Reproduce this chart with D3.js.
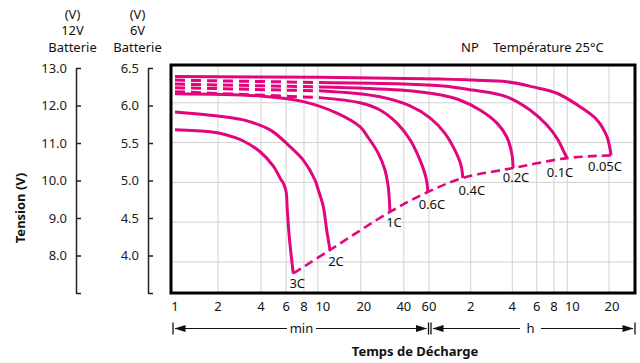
<!DOCTYPE html>
<html lang="fr">
<head>
<meta charset="UTF-8">
<title>Caractéristiques de décharge NP</title>
<script src="https://d3js.org/d3.v7.min.js"></script>
<style>
  body { margin: 0; background: #fff; }
  svg { display: block; font-family: "Noto Sans", sans-serif; }
  .grid line { stroke: #d2d2d2; stroke-width: 1; }
  .curve { fill: none; stroke: #e2067d; stroke-width: 3; }
  .endline { fill: none; stroke: #e2067d; stroke-width: 2.6; stroke-dasharray: 9,5; }
  .volt path, .volt line { stroke: #222; stroke-width: 1.5; }
  .volt text { font-size: 13px; fill: #222; font-family: "Noto Sans", sans-serif; }
  .lbl { font-size: 13px; fill: #111; }
  .bold { font-weight: bold; }
</style>
</head>
<body>
<svg id="chart" width="640" height="363"></svg>
<script>
// discharge time (min) and voltage (12V battery)
var rates = ["0.05C", "0.1C", "0.2C", "0.4C", "0.6C", "1C", "2C", "3C"];

var c005 = [[1, 12.66], [10.35, 12.64], [72, 12.60], [124, 12.57], [219, 12.53], [338, 12.40],
            [505, 12.24], [741, 11.90], [983, 11.57], [1161, 11.15], [1220, 10.85], [1241, 10.68]];
var c01  = [[1, 12.57], [10.35, 12.51], [72, 12.43], [124, 12.32], [219, 12.15], [322, 11.82],
            [427, 11.44], [513, 11.07], [559, 10.81], [597, 10.61]];
var c02  = [[1, 12.47], [10.35, 12.40], [37.6, 12.32], [72, 12.20], [100, 12.07], [140, 11.82],
            [186, 11.49], [219, 11.14], [239, 10.69], [243, 10.36]];
var c04  = [[1, 12.38], [10.35, 12.30], [27.2, 12.15], [44.2, 11.92], [61, 11.62], [78, 11.24],
            [92.3, 10.81], [102, 10.44], [105.4, 10.11]];
var c06  = [[1, 12.28], [10.35, 12.13], [19.7, 12.00], [27.2, 11.82], [35.8, 11.49], [44.2, 11.07],
            [51.9, 10.56], [57.2, 10.11], [59, 9.76]];
var c1   = [[1, 12.23], [3.94, 12.17], [7.91, 12.03], [13.6, 11.74], [19.7, 11.40], [22.4, 11.14],
            [26.4, 10.74], [29.5, 10.31], [31, 9.93], [32, 9.26]];
var c2   = [[1, 11.77], [1.76, 11.69], [3.01, 11.57], [4.63, 11.32], [6.38, 10.90], [7.91, 10.56],
            [9.55, 10.06], [10.07, 9.81], [10.92, 9.39], [11.53, 8.80], [12.17, 8.30]];
var c3   = [[1, 11.32], [1.76, 11.27], [2.30, 11.19], [3.01, 11.04], [3.94, 10.77], [4.88, 10.41],
            [5.50, 10.08], [5.73, 9.98], [5.99, 9.77], [6.11, 9.31], [6.31, 8.63], [6.56, 8.05], [6.73, 7.71]];

var dashedRates = ["0.1C", "0.2C", "0.4C", "0.6C"];
var dashUntil = 10.35;

var xTicks = [1, 2, 4, 6, 8, 10, 20, 40, 60, 120, 240, 360, 480, 600, 1200];
var xTickLabels = ["1", "2", "4", "6", "8", "10", "20", "40", "60", "2", "4", "6", "8", "10", "20"];
var yGrid = [8, 9, 10, 11, 12];
var volt12Ticks = [7, 8, 9, 10, 11, 12, 13];
var volt6Ticks = [3.5, 4, 4.5, 5, 5.5, 6, 6.5];

var series = [c005, c01, c02, c04, c06, c1, c2, c3].map(function(pts, i) {
    return { rate: rates[i], pts: pts };
});

var frameL = 171, frameR = 635, frameT = 65, frameB = 293;

var svg = d3.select("#chart");

var x = d3.scaleLog().domain([1, 60, 1200]).range([175, 429, 609]);
var y = d3.scaleLinear().domain([7.22, 12.95]).range([frameB, frameT]);

// grid
var grid = svg.append("g").attr("class", "grid");
grid.selectAll(".gx")
    .data(xTicks.slice(1))
    .enter().append("line")
    .attr("x1", function(d) { return x(d); })
    .attr("x2", function(d) { return x(d); })
    .attr("y1", frameT).attr("y2", frameB);
grid.selectAll(".gy")
    .data(yGrid)
    .enter().append("line")
    .attr("x1", frameL).attr("x2", frameR)
    .attr("y1", function(d) { return y(d); })
    .attr("y2", function(d) { return y(d); });

// curves
var line = d3.line()
    .x(function(d) { return x(d[0]); })
    .y(function(d) { return y(d[1]); })
    .curve(d3.curveCatmullRom.alpha(0.5));

series.forEach(function(s) {
    if (dashedRates.indexOf(s.rate) >= 0) {
        svg.append("path")
            .attr("class", "curve")
            .attr("stroke-dasharray", "10,6")
            .attr("d", line(s.pts.filter(function(d) { return d[0] <= dashUntil; })));
        svg.append("path")
            .attr("class", "curve")
            .attr("d", line(s.pts.filter(function(d) { return d[0] >= dashUntil; })));
    } else {
        svg.append("path")
            .attr("class", "curve")
            .attr("d", line(s.pts));
    }
});

// end voltage line through the curve ends
var ends = series.map(function(s) { return s.pts[s.pts.length - 1]; }).reverse();
svg.append("path")
    .attr("class", "endline")
    .attr("d", line(ends));

// rate labels
var labelOff = {
    "3C": [4, 14.5], "2C": [6, 15.5], "1C": [4, 15.5], "0.6C": [4, 17.5],
    "0.4C": [9, 16.5], "0.2C": [3, 14], "0.1C": [-7, 18.5], "0.05C": [-6, 15.5]
};
svg.selectAll(".rate")
    .data(series)
    .enter().append("text")
    .attr("class", "lbl")
    .attr("text-anchor", "middle")
    .attr("x", function(d) { var e = d.pts[d.pts.length - 1]; return x(e[0]) + labelOff[d.rate][0]; })
    .attr("y", function(d) { var e = d.pts[d.pts.length - 1]; return y(e[1]) + labelOff[d.rate][1]; })
    .text(function(d) { return d.rate; });

// frame
svg.append("rect")
    .attr("x", frameL).attr("y", frameT)
    .attr("width", frameR - frameL).attr("height", frameB - frameT)
    .attr("fill", "none").attr("stroke", "#000").attr("stroke-width", 3);

// bottom tick labels (two-digit ones sit a little right of their line)
svg.selectAll(".xl")
    .data(xTicks)
    .enter().append("text")
    .attr("class", "lbl")
    .attr("text-anchor", "middle")
    .attr("x", function(d, i) {
        var l = xTickLabels[i];
        return x(d) + (l === "10" ? 5 : (l === "20" ? 3 : 0));
    })
    .attr("y", 311)
    .text(function(d, i) { return xTickLabels[i]; });

// voltage axes
var v12 = d3.scaleLinear().domain([7, 13]).range([293, 68]);
var v6 = d3.scaleLinear().domain([3.5, 6.5]).range([293, 68]);

svg.append("g")
    .attr("class", "volt")
    .attr("transform", "translate(76,0)")
    .call(d3.axisLeft(v12).tickValues(volt12Ticks).tickSizeInner(-5).tickSizeOuter(0).tickPadding(9)
        .tickFormat(function(d) { return d === 7 ? "" : d3.format(".1f")(d); }));

svg.append("g")
    .attr("class", "volt")
    .attr("transform", "translate(148,0)")
    .call(d3.axisLeft(v6).tickValues(volt6Ticks).tickSizeInner(-5).tickSizeOuter(0).tickPadding(9)
        .tickFormat(function(d) { return d === 3.5 ? "" : d3.format(".1f")(d); }));

svg.selectAll(".volt .domain").attr("fill", "none");

// column headings
[["(V)", 18.5], ["12V", 35], ["Batterie", 51.5]].forEach(function(t) {
    svg.append("text").attr("class", "lbl").attr("text-anchor", "middle")
        .attr("x", 72.5).attr("y", t[1]).text(t[0]);
});
[["(V)", 18.5], ["6V", 35], ["Batterie", 51.5]].forEach(function(t) {
    svg.append("text").attr("class", "lbl").attr("text-anchor", "middle")
        .attr("x", 137.5).attr("y", t[1]).text(t[0]);
});

svg.append("text").attr("class", "lbl bold")
    .attr("text-anchor", "middle")
    .attr("font-size", 14)
    .attr("transform", "translate(25,208) rotate(-90)")
    .text("Tension (V)");

svg.append("text").attr("class", "lbl").attr("x", 461).attr("y", 52).text("NP");
svg.append("text").attr("class", "lbl").attr("x", 493).attr("y", 52).text("Température 25°C");

// min / h arrows
var ay = 328.5;
function arrowRow(x0, x1, label, gap0, gap1) {
    var g = svg.append("g").attr("stroke", "#111").attr("fill", "#111");
    g.append("line").attr("x1", x0).attr("x2", x0).attr("y1", ay - 6).attr("y2", ay + 6).attr("stroke-width", 1.3);
    g.append("line").attr("x1", x1).attr("x2", x1).attr("y1", ay - 6).attr("y2", ay + 6).attr("stroke-width", 1.3);
    g.append("line").attr("x1", x0 + 2).attr("x2", gap0).attr("y1", ay).attr("y2", ay).attr("stroke-width", 1);
    g.append("line").attr("x1", gap1).attr("x2", x1 - 2).attr("y1", ay).attr("y2", ay).attr("stroke-width", 1);
    g.append("path").attr("stroke", "none")
        .attr("d", "M" + (x0 + 1.5) + "," + ay + "l11,-3.5v7z");
    g.append("path").attr("stroke", "none")
        .attr("d", "M" + (x1 - 1.5) + "," + ay + "l-11,-3.5v7z");
    svg.append("text").attr("class", "lbl").attr("text-anchor", "middle")
        .attr("x", (gap0 + gap1) / 2).attr("y", 333).text(label);
}
arrowRow(x(1) - 2, x(60) - 0.5, "min", 287, 316);
arrowRow(x(60) + 2, frameR, "h", 520, 541);

svg.append("text").attr("class", "lbl bold")
    .attr("text-anchor", "middle")
    .attr("font-size", 15)
    .attr("x", 415).attr("y", 355.5)
    .text("Temps de Décharge");
</script>
</body>
</html>
